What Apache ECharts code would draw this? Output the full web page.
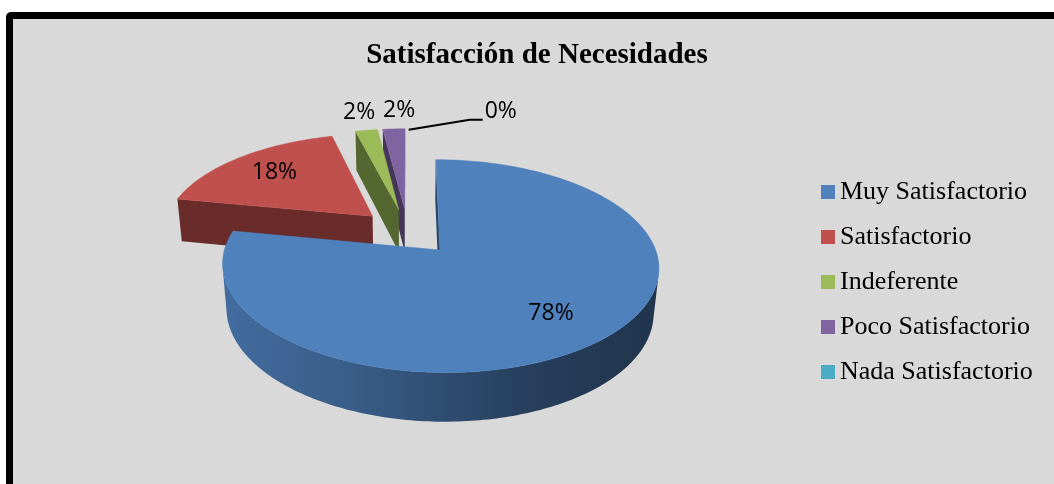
<!DOCTYPE html>
<html>
<head>
<meta charset="utf-8">
<script src="https://cdn.jsdelivr.net/npm/echarts@6/dist/echarts.min.js"></script>
<style>
  html, body { margin: 0; padding: 0; background: #fff; }
  #chart { width: 1054px; height: 484px; }
</style>
</head>
<body>
<div id="chart"></div>
<script>
// ---- data ----
const titleText = 'Satisfacción de Necesidades';
const categories = ['Muy Satisfactorio', 'Satisfactorio', 'Indeferente', 'Poco Satisfactorio', 'Nada Satisfactorio'];
const values = [78, 18, 2, 2, 0];
const sliceColors = ['#4F81BD', '#C0504D', '#9BBB59', '#8064A2', '#4BACC6'];

// ---- tilted pie view (perspective camera looking down at the disc) ----
const VIEW = {
  cx: 407.7, cy: 275.3,      // screen position of the disc's base centre
  scale: 1234,               // focal scale
  dist: 6,                   // camera distance, in disc radii
  tilt: 30 * Math.PI / 180,  // elevation of the camera
  thickness: 0.24,           // height of the disc, in radii
  explode: 0.235             // how far each slice is pulled out
};
const sT = Math.sin(VIEW.tilt), cT = Math.cos(VIEW.tilt);
const camera = [0, VIEW.dist * sT, -VIEW.dist * cT];

function project(p) {
  const d = VIEW.dist + p[2] * cT - p[1] * sT;
  const up = p[1] * cT + p[2] * sT;
  return [VIEW.cx + VIEW.scale * p[0] / d, VIEW.cy - VIEW.scale * up / d];
}
function facesCamera(n, p) {
  return n[0] * (camera[0] - p[0]) + n[1] * (camera[1] - p[1]) + n[2] * (camera[2] - p[2]) > 0;
}
function shade(hex, f) {
  const n = parseInt(hex.slice(1), 16);
  const r = Math.round(((n >> 16) & 255) * f), g = Math.round(((n >> 8) & 255) * f), b = Math.round((n & 255) * f);
  return 'rgb(' + r + ',' + g + ',' + b + ')';
}
function wallFill(hex) {
  return {
    type: 'linear', x: 0, y: 0, x2: 1, y2: 0,
    colorStops: [
      { offset: 0, color: shade(hex, 0.84) },
      { offset: 0.3, color: shade(hex, 0.72) },
      { offset: 0.52, color: shade(hex, 0.59) },
      { offset: 0.7, color: shade(hex, 0.49) },
      { offset: 0.87, color: shade(hex, 0.44) },
      { offset: 1, color: shade(hex, 0.41) }
    ]
  };
}

// slice angles (clockwise from the back of the disc)
const total = values.reduce((a, b) => a + b, 0);
const slices = [];
let acc = 0;
values.forEach((v) => {
  const a0 = acc / total * 2 * Math.PI;
  acc += v;
  const a1 = acc / total * 2 * Math.PI;
  const am = (a0 + a1) / 2;
  slices.push({
    a0, a1, am, value: v,
    ox: VIEW.explode * Math.sin(am),
    oz: VIEW.explode * Math.cos(am),
    pct: Math.round(v / total * 100)
  });
});

// painter's order: farthest slice first
const order = slices.map((s, i) => i).sort((a, b) => slices[b].oz - slices[a].oz);
const drawRank = [];
order.forEach((idx, r) => { drawRank[idx] = r; });

const H = VIEW.thickness;
const rimPt = (s, t, y, r) => [s.ox + (r || 1) * Math.sin(t), y, s.oz + (r || 1) * Math.cos(t)];

// label anchors
const labels = slices.map((s) => {
  if (s.pct >= 5) {
    const p = project(rimPt(s, s.am, H, 0.72));
    return { kind: 'inside', x: p[0], y: p[1] };
  }
  if (s.value > 0) {
    const p = project(rimPt(s, s.am, H, 1.27));
    return { kind: 'outside', x: p[0], y: p[1] };
  }
  const p = project(rimPt(s, s.am, H, 1));
  return { kind: 'callout', x: p[0], y: p[1] };
});
// keep neighbouring outside labels apart
const outside = labels.filter(l => l.kind === 'outside').sort((a, b) => a.x - b.x);
for (let i = 1; i < outside.length; i++) {
  if (outside[i].x - outside[i - 1].x < 40) outside[i].x = outside[i - 1].x + 40;
}

const labelFont = { fontFamily: '"Open Sans", sans-serif', fontSize: 23, fill: '#000' };

function renderSlice(params, api) {
  const i = params.dataIndex;
  const s = slices[i];
  const color = sliceColors[i];
  const rank = drawRank[i];
  const children = [];
  if (api.value(0) > 0) {
    const ctr = (y) => [s.ox, y, s.oz];
    // flat side walls along the two radii
    [[s.a0, s.a0 - Math.PI / 2], [s.a1, s.a1 + Math.PI / 2]].forEach(([t, nt]) => {
      const n = [Math.sin(nt), 0, Math.cos(nt)];
      if (facesCamera(n, rimPt(s, t, H / 2, 0.5))) {
        children.push({
          type: 'polygon', z2: rank * 10 + 1,
          shape: { points: [project(ctr(0)), project(ctr(H)), project(rimPt(s, t, H)), project(rimPt(s, t, 0))] },
          style: { fill: shade(color, 0.55) }
        });
      }
    });
    // curved outer wall, only where it faces the viewer
    const steps = Math.max(2, Math.ceil((s.a1 - s.a0) / (Math.PI / 180)));
    let run = [];
    const flush = () => {
      if (run.length > 1) {
        const top = run.map(t => project(rimPt(s, t, H)));
        const bot = run.map(t => project(rimPt(s, t, 0))).reverse();
        children.push({
          type: 'polygon', z2: rank * 10 + 2,
          shape: { points: top.concat(bot) },
          style: { fill: wallFill(color) }
        });
      }
      run = [];
    };
    for (let k = 0; k <= steps; k++) {
      const t = s.a0 + (s.a1 - s.a0) * k / steps;
      if (facesCamera([Math.sin(t), 0, Math.cos(t)], rimPt(s, t, H / 2))) run.push(t); else flush();
    }
    flush();
    // top face
    const topPts = [project(ctr(H))];
    for (let k = 0; k <= steps; k++) {
      topPts.push(project(rimPt(s, s.a0 + (s.a1 - s.a0) * k / steps, H)));
    }
    children.push({
      type: 'polygon', z2: rank * 10 + 3,
      shape: { points: topPts },
      style: { fill: color, stroke: color, lineWidth: 0.5 }
    });
  }
  // percentage label
  const lb = labels[i];
  const txt = s.pct + '%';
  if (lb.kind === 'callout') {
    const ly = lb.y - 9;
    children.push({
      type: 'polyline', z2: 100,
      shape: { points: [[lb.x + 1, lb.y + 1], [lb.x + 62, ly], [lb.x + 75, ly]] },
      style: { stroke: '#000', lineWidth: 2, fill: null }
    });
    children.push({
      type: 'text', z2: 101,
      style: Object.assign({ text: txt, x: lb.x + 77, y: ly - 8, align: 'left', verticalAlign: 'middle' }, labelFont)
    });
  } else {
    children.push({
      type: 'text', z2: 101,
      style: Object.assign({ text: txt, x: lb.x, y: lb.y, align: 'center', verticalAlign: 'middle' }, labelFont)
    });
  }
  return { type: 'group', children };
}

const chart = echarts.init(document.getElementById('chart'), null, { renderer: 'canvas' });
chart.setOption({
  backgroundColor: '#ffffff',
  animation: false,
  graphic: [
    { type: 'rect', z: -10, shape: { x: 6, y: 12, width: 1100, height: 520, r: [5, 0, 0, 0] }, style: { fill: '#000' } },
    { type: 'rect', z: -9, shape: { x: 13, y: 19, width: 1100, height: 520 }, style: { fill: '#D9D9D9' } },
    {
      type: 'text', z: 10,
      style: {
        text: titleText, x: 537, y: 56, align: 'center', verticalAlign: 'middle',
        fontFamily: '"Liberation Serif", "Times New Roman", serif', fontWeight: 'bold', fontSize: 29, fill: '#000'
      }
    }
  ],
  legend: {
    orient: 'vertical',
    left: 821, top: 179,
    padding: 0,
    itemWidth: 14, itemHeight: 14, itemGap: 19,
    icon: 'rect',
    selectedMode: false,
    data: categories,
    textStyle: { fontFamily: '"Liberation Serif", "Times New Roman", serif', fontSize: 26, lineHeight: 26, color: '#000' }
  },
  series: [
    {
      // carries the legend swatches; the visible slices come from the custom series
      type: 'pie', radius: [0, 0], center: [-100, -100], silent: true,
      label: { show: false }, labelLine: { show: false },
      data: categories.map((name, i) => ({ name, value: values[i], itemStyle: { color: sliceColors[i] } }))
    },
    {
      type: 'custom',
      coordinateSystem: 'none',
      renderItem: renderSlice,
      data: categories.map((name, i) => ({ name, value: [values[i]] }))
    }
  ]
});
</script>
</body>
</html>
